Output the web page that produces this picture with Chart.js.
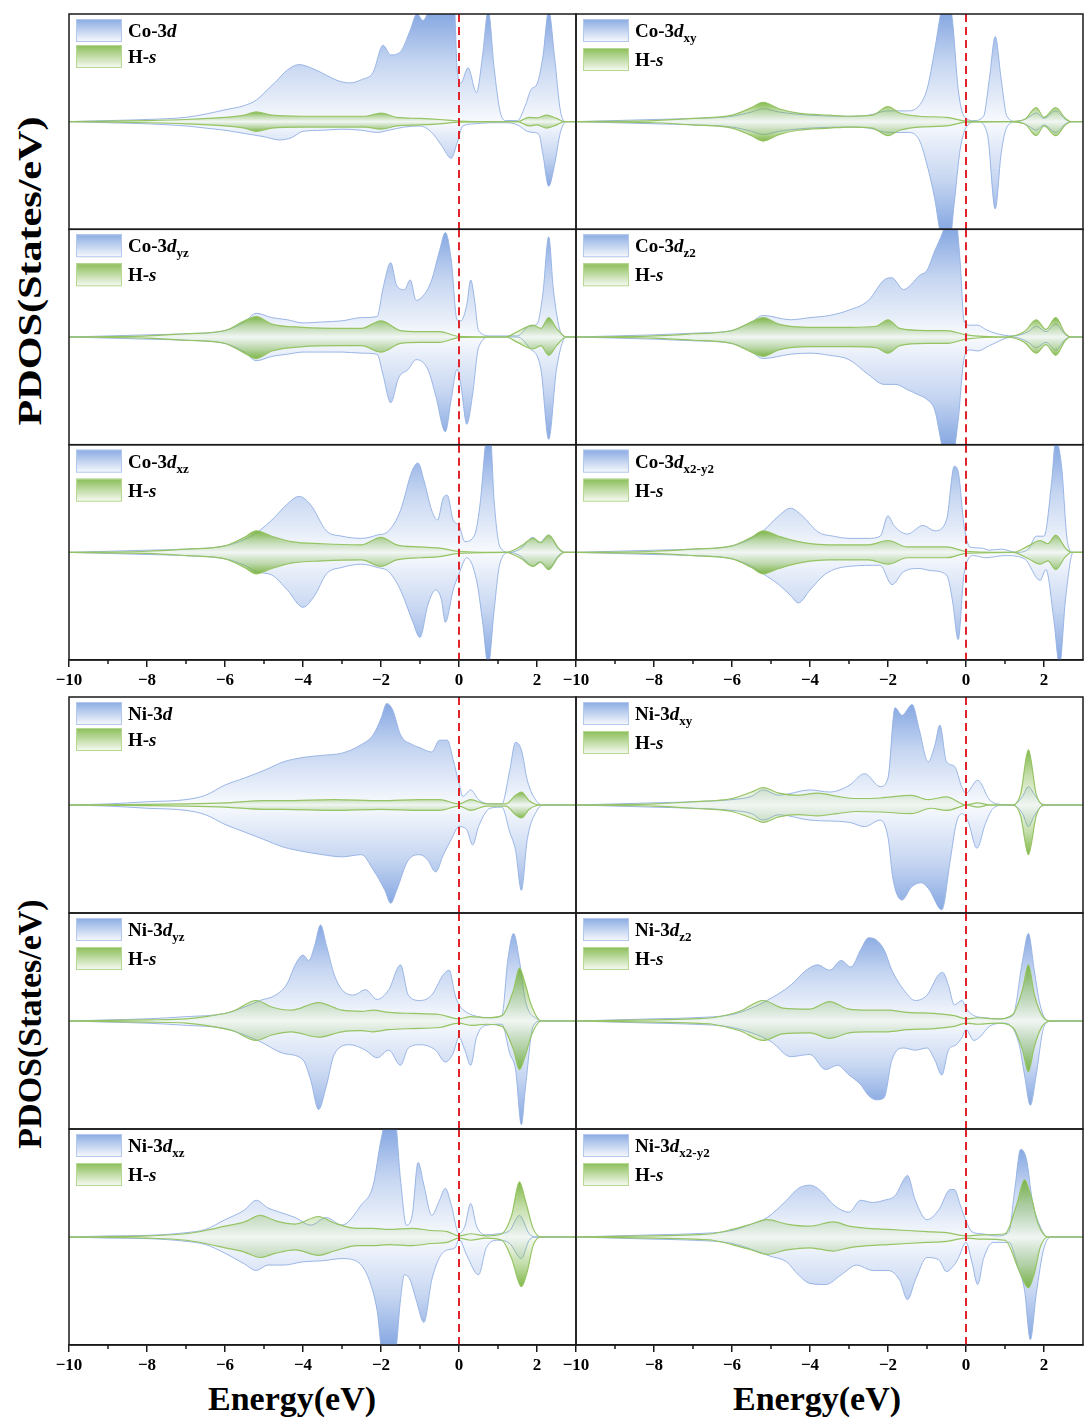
<!DOCTYPE html>
<html>
<head>
<meta charset="utf-8">
<script src="https://cdn.jsdelivr.net/npm/chart.js@4.4.1/dist/chart.umd.min.js"></script>
<style>
  body { margin: 0; background: #fff; }
  #page { position: relative; width: 1089px; height: 1428px; overflow: hidden; background: #fff; }
  canvas { position: absolute; }
  .title { position: absolute; font-family: "Liberation Serif", "Times New Roman", serif; font-weight: bold; color: #000; white-space: nowrap; line-height: 1; }
  .ytitle { transform-origin: center center; transform: translate(-50%, -50%) rotate(-90deg); }
  .ytitle.long { transform: translate(-50%, -50%) rotate(-90deg) scaleX(1.24); }
</style>
</head>
<body>
<div id="page">
  <div class="title ytitle long" style="left:30px; top:271px; font-size:34px;">PDOS(States/eV)</div>
  <div class="title ytitle" style="left:30px; top:1024px; font-size:34px;">PDOS(States/eV)</div>
  <div class="title" style="left:208px; top:1382px; font-size:34px;">Energy(eV)</div>
  <div class="title" style="left:733px; top:1382px; font-size:34px;">Energy(eV)</div>
</div>
<script>
// x axis ticks (energy, eV)
const tickValues = [-10, -8, -6, -4, -2, 0, 2];
const minorTicks = [-9, -7, -5, -3, -1, 1];

// ---- Co block: [energy, PDOS] pairs, spin up (+) and spin down (-) ----
const coD_up = [[-10,0],[-9,0.1],[-8,0.2],[-7,0.4],[-6.5,0.7],[-6,1.1],[-5.5,1.5],[-5.2,2.0],[-4.9,3.0],[-4.7,3.7],[-4.4,4.8],[-4.1,5.3],[-3.8,5.0],[-3.5,4.5],[-3.1,3.8],[-2.8,3.6],[-2.5,3.9],[-2.2,4.6],[-1.95,7.1],[-1.75,6.2],[-1.5,6.5],[-1.25,8.5],[-1.08,10],[-0.92,9.4],[-0.75,10.5],[-0.5,11.5],[-0.25,12],[-0.12,11],[-0.05,5],[0.05,3.6],[0.23,5.0],[0.45,2.7],[0.6,6],[0.75,10.3],[0.9,5],[1.05,1],[1.2,0.1],[1.5,0.1],[1.7,1.5],[1.85,3.0],[2.0,3.5],[2.15,6],[2.3,10.3],[2.45,6],[2.6,1],[2.75,0],[3,0]];
const coD_dn = [[-10,0],[-9,-0.1],[-8,-0.2],[-7,-0.4],[-6.5,-0.6],[-6,-0.8],[-5.5,-1.1],[-5,-1.4],[-4.6,-1.7],[-4.3,-1.5],[-4,-0.9],[-3.5,-0.8],[-3,-0.7],[-2.5,-0.8],[-2.1,-1.0],[-1.8,-0.8],[-1.4,-0.5],[-1.0,-0.4],[-0.7,-1.0],[-0.45,-2.2],[-0.2,-3.4],[-0.05,-2.0],[0.1,-0.4],[0.4,-0.2],[0.8,-0.1],[1.2,-0.1],[1.5,-0.3],[1.75,-0.9],[1.9,-1.0],[2.05,-1.2],[2.15,-3],[2.3,-6.0],[2.45,-4],[2.6,-1],[2.75,0],[3,0]];
const coD_Hup = [[-10,0],[-8,0.1],[-7,0.2],[-6,0.4],[-5.5,0.6],[-5.2,0.9],[-4.8,0.6],[-4,0.5],[-3,0.5],[-2.4,0.5],[-2.0,0.8],[-1.6,0.4],[-1,0.3],[-0.5,0.2],[0,0.05],[1,0],[1.5,0],[1.8,0.4],[2.0,0.35],[2.25,0.6],[2.5,0.3],[2.7,0],[3,0]];
const coD_Hdn = [[-10,0],[-8,-0.1],[-7,-0.2],[-6,-0.4],[-5.5,-0.6],[-5.2,-0.9],[-4.8,-0.6],[-4,-0.5],[-3,-0.5],[-2.4,-0.5],[-2.0,-0.7],[-1.6,-0.4],[-1,-0.3],[-0.5,-0.2],[0,-0.05],[1,0],[1.5,0],[1.8,-0.4],[2.0,-0.3],[2.25,-0.6],[2.5,-0.3],[2.7,0],[3,0]];

const coXY_up = [[-10,0],[-9,0.1],[-8,0.2],[-7,0.3],[-6,0.5],[-5.5,0.9],[-5.2,1.2],[-4.8,0.9],[-4,0.6],[-3,0.5],[-2.5,0.6],[-2,1.0],[-1.5,1.0],[-1.2,1.5],[-1.0,3],[-0.8,6.7],[-0.65,10],[-0.5,12],[-0.35,9.5],[-0.2,3],[-0.05,0.5],[0.2,0.1],[0.45,0.5],[0.6,4],[0.75,7.9],[0.9,4],[1.05,0.5],[1.3,0],[1.6,0.4],[1.8,0.8],[2.0,0.3],[2.3,1.0],[2.55,0.2],[2.7,0],[3,0]];
const coXY_dn = [[-10,0],[-9,-0.1],[-8,-0.2],[-7,-0.3],[-6,-0.5],[-5.5,-0.9],[-5.2,-1.2],[-4.8,-0.9],[-4,-0.6],[-3,-0.5],[-2.5,-0.6],[-2,-1.0],[-1.5,-1.0],[-1.2,-1.7],[-1.0,-4],[-0.8,-7.2],[-0.65,-10.5],[-0.45,-12],[-0.3,-7.5],[-0.15,-2.6],[0.05,-0.3],[0.3,0],[0.55,-1.2],[0.75,-8.1],[0.9,-3],[1.05,-0.5],[1.3,0],[1.6,-0.4],[1.8,-0.8],[2.0,-0.3],[2.3,-1.0],[2.55,-0.2],[2.7,0],[3,0]];
const coXY_Hup = [[-10,0],[-8,0.1],[-7,0.3],[-6,0.6],[-5.5,1.3],[-5.2,1.8],[-4.8,1.2],[-4.3,0.8],[-3.5,0.6],[-3,0.5],[-2.4,0.6],[-2.0,1.4],[-1.7,0.8],[-1.2,0.5],[-0.5,0.4],[0,0.05],[1,0],[1.5,0.2],[1.8,1.3],[2.0,0.4],[2.3,1.3],[2.55,0.3],[2.7,0],[3,0]];
const coXY_Hdn = [[-10,0],[-8,-0.1],[-7,-0.3],[-6,-0.6],[-5.5,-1.3],[-5.2,-1.8],[-4.8,-1.2],[-4.3,-0.8],[-3.5,-0.6],[-3,-0.5],[-2.4,-0.6],[-2.0,-1.3],[-1.7,-0.8],[-1.2,-0.5],[-0.5,-0.4],[0,-0.05],[1,0],[1.5,-0.2],[1.8,-1.3],[2.0,-0.4],[2.3,-1.3],[2.55,-0.3],[2.7,0],[3,0]];

const coYZ_up = [[-10,0],[-9,0.1],[-8,0.2],[-7,0.3],[-6,0.6],[-5.5,1.4],[-5.2,2.2],[-4.8,1.8],[-4.4,1.6],[-4,1.3],[-3.5,1.4],[-3,1.5],[-2.5,1.8],[-2.1,1.9],[-1.95,4.5],[-1.75,6.9],[-1.6,4.8],[-1.4,4.4],[-1.25,5.3],[-1.1,3.4],[-0.9,3.9],[-0.7,5.3],[-0.5,8],[-0.35,9.7],[-0.2,7.2],[-0.05,1.6],[0.05,1.5],[0.2,3.0],[0.3,5.3],[0.4,3.4],[0.5,0.6],[0.8,0.1],[1.5,0.1],[1.8,1.0],[2.0,1.2],[2.15,4],[2.3,9.3],[2.42,4.4],[2.6,0.5],[2.75,0],[3,0]];
const coYZ_dn = [[-10,0],[-9,-0.1],[-8,-0.2],[-7,-0.3],[-6,-0.6],[-5.5,-1.4],[-5.2,-2.2],[-4.8,-1.8],[-4.4,-1.6],[-4,-1.4],[-3.5,-1.4],[-3,-1.4],[-2.5,-1.5],[-2.1,-1.6],[-1.95,-3.5],[-1.75,-6.1],[-1.55,-3.8],[-1.3,-3.0],[-1.1,-2.1],[-0.8,-3.0],[-0.6,-5.4],[-0.35,-8.8],[-0.2,-5.8],[-0.05,-3],[0.05,-4.5],[0.2,-8.1],[0.35,-5.3],[0.5,-1],[0.8,0],[1.5,0],[1.8,-1],[2.1,-3],[2.3,-9.5],[2.5,-3],[2.75,0],[3,0]];
const coYZ_Hup = [[-10,0],[-8,0.1],[-7,0.3],[-6,0.6],[-5.5,1.5],[-5.2,1.9],[-4.8,1.2],[-4,0.9],[-3,0.8],[-2.5,0.8],[-2,1.5],[-1.5,0.6],[-1,0.5],[-0.5,0.5],[0,0.05],[1.2,0],[1.5,0.5],[1.9,1.1],[2.1,0.8],[2.3,1.8],[2.5,0.8],[2.75,0],[3,0]];
const coYZ_Hdn = [[-10,0],[-8,-0.1],[-7,-0.3],[-6,-0.6],[-5.5,-1.5],[-5.2,-2.0],[-4.8,-1.3],[-4,-0.9],[-3,-0.8],[-2.5,-0.8],[-2,-1.4],[-1.5,-0.6],[-1,-0.5],[-0.5,-0.5],[0,-0.05],[1.2,0],[1.5,-0.5],[1.9,-1.1],[2.1,-0.8],[2.3,-1.7],[2.5,-0.8],[2.75,0],[3,0]];

const coZ2_up = [[-10,0],[-9,0.1],[-8,0.2],[-7,0.35],[-6,0.6],[-5.5,1.4],[-5.2,2.0],[-4.5,1.6],[-4,1.8],[-3.5,2.0],[-3,2.5],[-2.5,3.4],[-2.1,5.3],[-1.9,5.5],[-1.6,4.4],[-1.4,4.9],[-1.2,5.7],[-1.0,6.2],[-0.8,8],[-0.6,9.7],[-0.45,11.5],[-0.3,12],[-0.15,7],[-0.05,1.5],[0.1,1.1],[0.3,1.1],[0.5,0.7],[0.8,0.3],[1.2,0.1],[1.6,0.5],[1.8,1.0],[2.05,0.5],[2.3,1.2],[2.55,0.2],[2.7,0],[3,0]];
const coZ2_dn = [[-10,0],[-9,-0.1],[-8,-0.2],[-7,-0.35],[-6,-0.6],[-5.5,-1.4],[-5.2,-2.0],[-4.5,-1.6],[-4,-1.5],[-3.5,-1.7],[-3,-2.1],[-2.5,-3.5],[-2.1,-4.4],[-1.8,-4.4],[-1.5,-4.9],[-1.2,-5.4],[-1.0,-5.8],[-0.8,-6.8],[-0.6,-10.3],[-0.4,-12],[-0.2,-7.7],[-0.05,-2],[0.1,-1.2],[0.3,-1.3],[0.6,-0.8],[1.2,0],[1.6,-0.5],[1.8,-1.0],[2.05,-0.5],[2.3,-1.2],[2.55,-0.2],[2.7,0],[3,0]];
const coZ2_Hup = [[-10,0],[-8,0.1],[-7,0.3],[-6,0.6],[-5.5,1.4],[-5.2,1.8],[-4.8,1.2],[-4,0.9],[-3,0.9],[-2.3,1.0],[-2,1.6],[-1.7,0.8],[-1,0.6],[-0.5,0.6],[0,0.2],[1,0],[1.5,0.5],[1.8,1.6],[2.05,0.7],[2.3,1.8],[2.55,0.3],[2.7,0],[3,0]];
const coZ2_Hdn = [[-10,0],[-8,-0.1],[-7,-0.3],[-6,-0.6],[-5.5,-1.4],[-5.2,-1.8],[-4.8,-1.2],[-4,-0.9],[-3,-0.9],[-2.3,-1.0],[-2,-1.5],[-1.7,-0.8],[-1,-0.6],[-0.5,-0.6],[0,-0.2],[1,0],[1.5,-0.5],[1.8,-1.5],[2.05,-0.7],[2.3,-1.7],[2.55,-0.3],[2.7,0],[3,0]];

const coXZ_up = [[-10,0],[-9,0.1],[-8,0.2],[-7,0.3],[-6,0.6],[-5.5,1.2],[-5.2,1.8],[-4.8,3.0],[-4.4,4.5],[-4.1,5.2],[-3.8,4.4],[-3.4,2.0],[-3,1.5],[-2.5,1.3],[-2.1,1.6],[-1.8,2.0],[-1.5,3.9],[-1.2,7.6],[-1.05,8.3],[-0.9,6.7],[-0.7,3.9],[-0.55,3.0],[-0.4,5.1],[-0.3,5.3],[-0.15,3.0],[0,2.5],[0.15,1.0],[0.4,1.6],[0.55,4.8],[0.7,10.5],[0.8,11],[0.9,4.8],[1.05,0.5],[1.3,0],[1.6,0.4],[1.9,1.4],[2.05,0.9],[2.3,1.6],[2.55,0.3],[2.7,0],[3,0]];
const coXZ_dn = [[-10,0],[-9,-0.1],[-8,-0.2],[-7,-0.3],[-6,-0.6],[-5.5,-1.2],[-5.2,-1.8],[-4.8,-2.1],[-4.4,-3.5],[-4.0,-5.1],[-3.7,-4.0],[-3.4,-2.0],[-3,-1.4],[-2.5,-1.1],[-2.1,-1.4],[-1.8,-1.8],[-1.5,-3.5],[-1.2,-6.3],[-1.0,-7.9],[-0.8,-4.9],[-0.6,-3.5],[-0.45,-4.4],[-0.35,-6.5],[-0.15,-3.5],[0,-2],[0.2,-0.5],[0.45,-2.6],[0.6,-6.3],[0.75,-10.5],[0.9,-5.4],[1.05,-1],[1.3,0],[1.6,-0.4],[1.9,-1.3],[2.05,-0.9],[2.3,-1.5],[2.55,-0.3],[2.7,0],[3,0]];
const coXZ_Hup = [[-10,0],[-8,0.1],[-7,0.3],[-6,0.6],[-5.5,1.4],[-5.2,2.0],[-4.8,1.5],[-4.3,1.0],[-3.5,0.8],[-2.5,0.7],[-2,1.4],[-1.6,0.7],[-1,0.5],[-0.5,0.4],[0,0.1],[1.2,0],[1.6,0.6],[1.9,1.3],[2.1,0.9],[2.3,1.6],[2.55,0.4],[2.7,0],[3,0]];
const coXZ_Hdn = [[-10,0],[-8,-0.1],[-7,-0.3],[-6,-0.6],[-5.5,-1.4],[-5.2,-2.0],[-4.8,-1.5],[-4.3,-1.0],[-3.5,-0.8],[-2.5,-0.7],[-2,-1.3],[-1.6,-0.7],[-1,-0.5],[-0.5,-0.4],[0,-0.1],[1.2,0],[1.6,-0.6],[1.9,-1.3],[2.1,-0.9],[2.3,-1.6],[2.55,-0.4],[2.7,0],[3,0]];

const coX2_up = [[-10,0],[-9,0.1],[-8,0.2],[-7,0.3],[-6,0.6],[-5.5,1.3],[-5.2,2.0],[-4.8,3.4],[-4.5,4.1],[-4.2,3.4],[-3.8,1.9],[-3.4,1.5],[-3,1.3],[-2.5,1.3],[-2.2,1.5],[-2.0,3.4],[-1.85,2.5],[-1.5,1.7],[-1.1,2.5],[-0.8,2.0],[-0.5,3.0],[-0.3,8],[-0.2,7.5],[-0.05,2.5],[0.1,0.5],[0.4,0.4],[0.6,0.2],[0.9,0.3],[1.3,0],[1.6,0.3],[1.8,1.5],[2.0,1.5],[2.2,6.7],[2.3,10.5],[2.45,8],[2.6,1],[2.75,0],[3,0]];
const coX2_dn = [[-10,0],[-9,-0.1],[-8,-0.2],[-7,-0.3],[-6,-0.6],[-5.5,-1.3],[-5.2,-2.0],[-4.8,-3.0],[-4.5,-4.0],[-4.3,-4.7],[-4,-3.5],[-3.6,-2.0],[-3,-1.3],[-2.2,-1.2],[-1.9,-3.0],[-1.6,-1.8],[-1.2,-1.5],[-0.9,-1.7],[-0.5,-2.1],[-0.35,-4.4],[-0.2,-8.1],[-0.05,-2],[0.2,-0.3],[0.5,-0.5],[1,-0.3],[1.5,-0.6],[1.9,-2.6],[2.05,-1.6],[2.25,-6.2],[2.4,-10.5],[2.55,-4.4],[2.75,0],[3,0]];
const coX2_Hup = [[-10,0],[-8,0.1],[-7,0.3],[-6,0.6],[-5.5,1.4],[-5.2,2.0],[-4.8,1.5],[-4.3,1.0],[-3.5,0.7],[-2.5,0.7],[-2,1.1],[-1.5,0.5],[-0.5,0.5],[0,0.1],[1.2,0],[1.6,0.6],[1.9,1.1],[2.1,0.8],[2.3,1.6],[2.55,0.4],[2.7,0],[3,0]];
const coX2_Hdn = [[-10,0],[-8,-0.1],[-7,-0.3],[-6,-0.6],[-5.5,-1.4],[-5.2,-2.0],[-4.8,-1.5],[-4.3,-1.0],[-3.5,-0.7],[-2.5,-0.7],[-2,-1.1],[-1.5,-0.5],[-0.5,-0.5],[0,-0.1],[1.2,0],[1.6,-0.6],[1.9,-1.1],[2.1,-0.8],[2.3,-1.6],[2.55,-0.4],[2.7,0],[3,0]];

// ---- Ni block ----
const niD_up = [[-10,0],[-9,0.1],[-8,0.3],[-7,0.5],[-6.5,0.9],[-6,1.85],[-5.5,2.5],[-5,3.2],[-4.5,4.0],[-4,4.4],[-3.5,4.6],[-3,4.8],[-2.5,5.6],[-2.2,6.5],[-2.0,8],[-1.85,9.4],[-1.7,8.8],[-1.5,6.5],[-1.2,5.6],[-1.0,5.3],[-0.7,4.9],[-0.5,6.0],[-0.3,6.0],[-0.15,4.2],[0,2.0],[0.1,0.8],[0.3,1.4],[0.5,0.5],[0.8,0.1],[1.1,0.1],[1.3,3.2],[1.45,5.8],[1.6,5.1],[1.75,2.3],[2,0.3],[2.2,0],[3,0]];
const niD_dn = [[-10,0],[-9,-0.1],[-8,-0.3],[-7,-0.5],[-6.5,-0.9],[-6,-1.8],[-5.5,-2.5],[-5,-3.2],[-4.5,-3.9],[-4,-4.3],[-3.5,-4.6],[-3,-4.8],[-2.5,-4.6],[-2.2,-6],[-1.9,-7.9],[-1.75,-9.1],[-1.6,-7.9],[-1.3,-5.1],[-1.0,-4.6],[-0.8,-5.1],[-0.6,-6.2],[-0.4,-4.6],[-0.2,-3.2],[0,-2],[0.2,-2.3],[0.35,-3.7],[0.5,-2],[0.8,-0.3],[1.1,-0.2],[1.3,-2.5],[1.45,-4.2],[1.6,-7.9],[1.75,-3.2],[2,-0.5],[2.2,0],[3,0]];
const niD_Hup = [[-10,0],[-8,0.05],[-7,0.1],[-6,0.2],[-5,0.4],[-4.5,0.4],[-3.2,0.5],[-2,0.4],[-1,0.5],[-0.5,0.5],[0,0.1],[0.3,0.5],[0.7,0.1],[1.2,0.1],[1.45,0.9],[1.6,1.2],[1.8,0.4],[2.1,0],[3,0]];
const niD_Hdn = [[-10,0],[-8,-0.05],[-7,-0.1],[-6,-0.2],[-5,-0.4],[-4.5,-0.4],[-3.2,-0.5],[-2,-0.4],[-1,-0.5],[-0.5,-0.5],[0,-0.1],[0.3,-0.5],[0.7,-0.1],[1.2,-0.1],[1.45,-0.9],[1.6,-1.2],[1.8,-0.4],[2.1,0],[3,0]];

const niXY_up = [[-10,0],[-9,0.1],[-8,0.2],[-7,0.3],[-6,0.5],[-5.5,0.8],[-5.2,1.4],[-4.8,0.9],[-4,1.4],[-3.5,1.2],[-3,1.8],[-2.6,2.9],[-2.2,1.7],[-2.0,2.5],[-1.82,9.0],[-1.64,8.3],[-1.38,9.3],[-1.2,7.0],[-0.97,4.0],[-0.8,5.5],[-0.67,7.4],[-0.5,4.0],[-0.3,3.6],[-0.1,1.6],[0,1.1],[0.3,2.3],[0.6,0.5],[0.8,0.1],[1.2,0],[1.45,0.8],[1.6,1.7],[1.75,1.0],[1.95,0.1],[2.2,0],[3,0]];
const niXY_dn = [[-10,0],[-9,-0.1],[-8,-0.2],[-7,-0.3],[-6,-0.5],[-5.5,-0.8],[-5.2,-1.4],[-4.8,-0.9],[-4,-1.4],[-3,-1.6],[-2.6,-2.0],[-2.2,-1.4],[-2.0,-3.0],[-1.87,-6.9],[-1.64,-8.8],[-1.4,-7.6],[-1.15,-7.2],[-0.95,-7.8],[-0.62,-9.7],[-0.4,-5],[-0.25,-1.7],[-0.1,-0.8],[0.05,-1.5],[0.28,-4.0],[0.5,-1.7],[0.7,-0.3],[1.0,0],[1.2,0],[1.45,-0.8],[1.6,-2.0],[1.75,-1.0],[1.95,-0.1],[2.2,0],[3,0]];
const niXY_Hup = [[-10,0],[-8,0.1],[-7,0.3],[-6,0.6],[-5.5,1.2],[-5.2,1.6],[-4.8,1.1],[-4.3,0.9],[-3.8,1.1],[-3.3,0.8],[-2.8,0.6],[-2.2,0.65],[-1.4,0.9],[-0.97,0.5],[-0.5,0.75],[-0.1,0.1],[0,0],[0.3,0.2],[0.6,0],[1.2,0],[1.4,1.0],[1.6,5.1],[1.8,1.0],[2.0,0],[3,0]];
const niXY_Hdn = [[-10,0],[-8,-0.1],[-7,-0.3],[-6,-0.6],[-5.5,-1.2],[-5.2,-1.6],[-4.8,-1.1],[-4.3,-0.9],[-3.8,-1.0],[-3.3,-0.8],[-2.8,-0.6],[-2.2,-0.65],[-1.4,-0.8],[-0.9,-0.3],[-0.5,-0.5],[-0.1,-0.1],[0,0],[0.3,-0.2],[0.6,0],[1.2,0],[1.4,-1.0],[1.6,-4.6],[1.8,-1.0],[2.0,0],[3,0]];

const niYZ_up = [[-10,0],[-9,0.1],[-8,0.2],[-7,0.4],[-6,0.7],[-5.5,1.3],[-5.1,1.9],[-4.7,2.4],[-4.4,3.5],[-4.2,5.2],[-4.0,6.1],[-3.85,5.6],[-3.7,7],[-3.55,8.9],[-3.4,7.0],[-3.2,4.3],[-3.0,2.9],[-2.7,2.4],[-2.4,2.9],[-2.1,2.0],[-1.8,2.9],[-1.5,5.2],[-1.3,2.4],[-1.0,1.9],[-0.7,2.4],[-0.4,4.3],[-0.25,4.7],[-0.1,2.4],[0,1.5],[0.2,0.8],[0.5,0.4],[0.8,0.3],[1.1,0.5],[1.25,5.6],[1.4,8.1],[1.55,5.6],[1.7,1.9],[2.0,0.2],[2.2,0],[3,0]];
const niYZ_dn = [[-10,0],[-9,-0.1],[-8,-0.2],[-7,-0.4],[-6,-0.7],[-5.5,-1.3],[-5.1,-1.9],[-4.5,-3.0],[-4.0,-3.6],[-3.8,-5.5],[-3.6,-8.2],[-3.4,-6],[-3.2,-3.1],[-2.8,-2.2],[-2.4,-2.7],[-2.1,-3.4],[-1.8,-2.7],[-1.5,-4.1],[-1.3,-2.5],[-1.0,-2.2],[-0.6,-2.7],[-0.35,-3.8],[-0.15,-3],[0,-1.5],[0.15,-2.7],[0.3,-4.1],[0.45,-1.5],[0.7,-0.4],[1.1,-0.3],[1.3,-3],[1.45,-4.5],[1.6,-9.6],[1.7,-6.3],[1.9,-0.5],[2.1,0],[3,0]];
const niYZ_Hup = [[-10,0],[-8,0.1],[-7,0.2],[-6.5,0.4],[-5.8,0.9],[-5.2,1.9],[-4.8,1.3],[-4.3,1.0],[-3.6,1.7],[-3.0,1.0],[-2.5,0.9],[-2.2,1.0],[-1.8,0.8],[-1.2,0.7],[-0.5,0.6],[0,0.2],[0.3,0.4],[0.7,0.3],[1.1,0.5],[1.4,2.9],[1.55,4.9],[1.7,3.4],[1.85,1.5],[2.1,0],[3,0]];
const niYZ_Hdn = [[-10,0],[-8,-0.1],[-7,-0.2],[-6.5,-0.4],[-5.8,-0.9],[-5.2,-1.8],[-4.8,-1.3],[-4.3,-1.0],[-3.6,-1.5],[-3.0,-1.0],[-2.5,-0.9],[-2.2,-1.0],[-1.8,-0.8],[-1.2,-0.7],[-0.5,-0.6],[0,-0.2],[0.3,-0.4],[0.7,-0.3],[1.1,-0.5],[1.4,-2.7],[1.55,-4.5],[1.7,-3.2],[1.85,-1.4],[2.1,0],[3,0]];

const niZ2_up = [[-10,0],[-9,0.1],[-8,0.2],[-7,0.3],[-6,0.6],[-5.5,1.2],[-5.1,1.9],[-4.5,3.3],[-4.1,4.7],[-3.8,5.2],[-3.5,4.7],[-3.2,5.6],[-2.95,5.0],[-2.7,6.6],[-2.5,7.7],[-2.3,7.5],[-2.1,6.6],[-1.9,4.7],[-1.6,2.9],[-1.3,1.9],[-1.0,2.4],[-0.7,4.3],[-0.6,4.5],[-0.45,3.3],[-0.3,1.5],[-0.1,1.9],[0,1.2],[0.2,0.5],[0.5,0.3],[0.8,0.2],[1.2,0.5],[1.45,5.6],[1.6,8.1],[1.75,4.7],[1.9,1.5],[2.1,0],[3,0]];
const niZ2_dn = [[-10,0],[-9,-0.1],[-8,-0.2],[-7,-0.3],[-6,-0.6],[-5,-1.9],[-4.5,-3.3],[-4,-3.1],[-3.6,-4.5],[-3.3,-4.1],[-3.0,-5],[-2.7,-5.9],[-2.5,-6.9],[-2.3,-7.3],[-2.1,-7.1],[-1.9,-3.6],[-1.6,-2.5],[-1.3,-2.7],[-1.0,-2.5],[-0.8,-3.6],[-0.62,-5],[-0.45,-2.7],[-0.25,-2.2],[-0.1,-1.5],[0,-0.8],[0.2,-1.8],[0.35,-1.5],[0.6,-0.5],[1.0,-0.2],[1.35,-2],[1.5,-5],[1.65,-7.8],[1.8,-5],[2.0,-0.5],[2.2,0],[3,0]];
const niZ2_Hup = [[-10,0],[-8,0.1],[-7,0.2],[-6.5,0.3],[-5.8,0.9],[-5.2,1.9],[-4.7,1.2],[-4,1.1],[-3.5,1.8],[-3,1.1],[-2.5,1.0],[-2,1.0],[-1.5,0.8],[-0.8,0.7],[-0.3,0.5],[0,0.2],[0.3,0.3],[0.8,0.2],[1.2,0.6],[1.45,2.9],[1.6,5.2],[1.75,2.5],[1.95,0.5],[2.2,0],[3,0]];
const niZ2_Hdn = [[-10,0],[-8,-0.1],[-7,-0.2],[-6.5,-0.3],[-5.8,-0.9],[-5.2,-1.8],[-4.7,-1.2],[-4,-1.1],[-3.5,-1.6],[-3,-1.1],[-2.5,-1.0],[-2,-1.0],[-1.5,-0.8],[-0.8,-0.7],[-0.3,-0.5],[0,-0.2],[0.3,-0.3],[0.8,-0.2],[1.2,-0.6],[1.45,-2.7],[1.6,-4.7],[1.75,-2.4],[1.95,-0.5],[2.2,0],[3,0]];

const niXZ_up = [[-10,0],[-9,0.1],[-8,0.15],[-7,0.4],[-6.5,0.7],[-6,1.6],[-5.5,2.5],[-5.2,3.4],[-4.9,2.7],[-4.6,2.3],[-4.2,1.8],[-3.8,1.1],[-3.4,1.8],[-3,1.1],[-2.5,3.0],[-2.2,4.8],[-2.0,9],[-1.85,11],[-1.65,11],[-1.5,5.3],[-1.35,1.1],[-1.2,2.0],[-1.05,6.9],[-0.9,4.8],[-0.7,2.0],[-0.5,3.4],[-0.35,4.5],[-0.2,3.0],[0,0.3],[0.15,1.0],[0.3,3.1],[0.45,1.0],[0.7,0.2],[1.0,0.3],[1.3,0.6],[1.55,2.0],[1.8,0.3],[2.0,0],[3,0]];
const niXZ_dn = [[-10,0],[-9,-0.1],[-8,-0.15],[-7,-0.4],[-6.5,-0.7],[-6,-1.5],[-5.5,-2.5],[-5.2,-3.1],[-4.9,-2.6],[-4.5,-2.6],[-4,-2.3],[-3.5,-2.2],[-3,-2.0],[-2.6,-2.3],[-2.3,-4],[-2.1,-6.8],[-1.95,-11],[-1.65,-11],[-1.5,-5.8],[-1.4,-3.5],[-1.25,-4.0],[-1.1,-5.8],[-0.9,-7.9],[-0.7,-4.0],[-0.5,-1.9],[-0.3,-1.2],[-0.1,-1.0],[0,-0.2],[0.2,-1.7],[0.5,-3.5],[0.7,-1.0],[1.0,-0.3],[1.3,-0.6],[1.6,-2.0],[1.8,-0.3],[2.0,0],[3,0]];
const niXZ_Hup = [[-10,0],[-8,0.1],[-7,0.3],[-6.5,0.6],[-6,1.0],[-5.5,1.4],[-5.1,2.0],[-4.7,1.5],[-4.2,1.2],[-3.6,1.9],[-3.2,1.3],[-2.6,0.8],[-2.2,0.8],[-1.8,0.7],[-1.2,0.8],[-0.7,0.6],[-0.3,0.5],[0,0.1],[0.3,0.3],[0.7,0.1],[1.1,0.3],[1.35,2.0],[1.55,5.1],[1.7,3.4],[1.9,0.8],[2.1,0],[3,0]];
const niXZ_Hdn = [[-10,0],[-8,-0.1],[-7,-0.3],[-6.5,-0.6],[-6,-1.0],[-5.5,-1.4],[-5.1,-1.9],[-4.7,-1.5],[-4.2,-1.2],[-3.6,-1.7],[-3.2,-1.3],[-2.6,-0.8],[-2.2,-0.8],[-1.8,-0.7],[-1.2,-0.8],[-0.7,-0.6],[-0.3,-0.5],[0,-0.1],[0.3,-0.3],[0.7,-0.1],[1.1,-0.3],[1.35,-2.0],[1.6,-4.6],[1.75,-3.2],[1.9,-0.8],[2.1,0],[3,0]];

const niX2_up = [[-10,0],[-9,0.1],[-8,0.2],[-7,0.3],[-6,0.6],[-5.5,1.2],[-5.1,1.8],[-4.6,3.4],[-4.3,4.5],[-4.0,4.8],[-3.7,4.2],[-3.4,3.0],[-3.0,2.3],[-2.7,3.4],[-2.4,3.2],[-2.1,3.4],[-1.8,3.9],[-1.6,5.3],[-1.5,5.7],[-1.3,3.4],[-1.0,1.6],[-0.7,2.5],[-0.4,4.4],[-0.3,4.4],[-0.15,3.0],[0,1.5],[0.15,0.5],[0.4,0.3],[0.8,0.1],[1.1,0.5],[1.25,4.4],[1.4,8.1],[1.55,7.2],[1.7,3.4],[1.9,1.0],[2.1,0],[3,0]];
const niX2_dn = [[-10,0],[-9,-0.1],[-8,-0.2],[-7,-0.3],[-6,-0.6],[-5,-1.8],[-4.6,-2.3],[-4.3,-3.5],[-4.0,-4.3],[-3.6,-4.4],[-3.2,-3.5],[-2.8,-2.6],[-2.4,-3.1],[-2.0,-3.1],[-1.7,-4.0],[-1.5,-5.8],[-1.3,-4.0],[-1.0,-1.9],[-0.7,-2.1],[-0.5,-3.2],[-0.35,-2.8],[-0.2,-2],[0,-0.5],[0.15,-2.3],[0.3,-4.4],[0.45,-2],[0.7,-0.5],[1.1,-0.5],[1.35,-3],[1.5,-4.9],[1.65,-9.5],[1.8,-5.3],[2.0,-1],[2.2,0],[3,0]];
const niX2_Hup = [[-10,0],[-8,0.1],[-7,0.2],[-6.5,0.3],[-6,0.7],[-5.5,1.2],[-5.1,1.6],[-4.6,1.2],[-4,1.0],[-3.4,1.4],[-3,1.0],[-2.5,0.8],[-2,0.7],[-1.5,0.6],[-1,0.5],[-0.5,0.4],[0,0.1],[0.4,0.2],[1.0,0.3],[1.3,3.0],[1.5,5.3],[1.65,4.0],[1.85,1.2],[2.1,0],[3,0]];
const niX2_Hdn = [[-10,0],[-8,-0.1],[-7,-0.2],[-6.5,-0.3],[-6,-0.7],[-5.5,-1.2],[-5.1,-1.6],[-4.6,-1.2],[-4,-1.0],[-3.4,-1.3],[-3,-1.0],[-2.5,-0.8],[-2,-0.7],[-1.5,-0.6],[-1,-0.5],[-0.5,-0.4],[0,-0.1],[0.4,-0.2],[1.0,-0.3],[1.35,-3.0],[1.6,-4.7],[1.75,-3.4],[1.9,-1.0],[2.1,0],[3,0]];

// panels in reading order (left, right per row)
const panels = [
  { el: 'Co', orb: '',      d: [coD_up, coD_dn],   h: [coD_Hup, coD_Hdn] },
  { el: 'Co', orb: 'xy',    d: [coXY_up, coXY_dn], h: [coXY_Hup, coXY_Hdn] },
  { el: 'Co', orb: 'yz',    d: [coYZ_up, coYZ_dn], h: [coYZ_Hup, coYZ_Hdn] },
  { el: 'Co', orb: 'z2',    d: [coZ2_up, coZ2_dn], h: [coZ2_Hup, coZ2_Hdn] },
  { el: 'Co', orb: 'xz',    d: [coXZ_up, coXZ_dn], h: [coXZ_Hup, coXZ_Hdn] },
  { el: 'Co', orb: 'x2-y2', d: [coX2_up, coX2_dn], h: [coX2_Hup, coX2_Hdn] },
  { el: 'Ni', orb: '',      d: [niD_up, niD_dn],   h: [niD_Hup, niD_Hdn] },
  { el: 'Ni', orb: 'xy',    d: [niXY_up, niXY_dn], h: [niXY_Hup, niXY_Hdn] },
  { el: 'Ni', orb: 'yz',    d: [niYZ_up, niYZ_dn], h: [niYZ_Hup, niYZ_Hdn] },
  { el: 'Ni', orb: 'z2',    d: [niZ2_up, niZ2_dn], h: [niZ2_Hup, niZ2_Hdn] },
  { el: 'Ni', orb: 'xz',    d: [niXZ_up, niXZ_dn], h: [niXZ_Hup, niXZ_Hdn] },
  { el: 'Ni', orb: 'x2-y2', d: [niX2_up, niX2_dn], h: [niX2_Hup, niX2_Hdn] }
];

const FONT = '"Liberation Serif", "Times New Roman", serif';
const BLUE = '118,156,222';
const GREEN = '118,178,58';

// layout of the panel grid
const colLeft = [69, 576];
const panelW = 507;
const rowTop = [14, 229.3, 444.7, 697, 913, 1129];
const rowH = [215.3, 215.4, 215.3, 216, 216, 216];
const PAD = 30, AXIS_H = 40;

function toXY(arr) {
  return arr.map(p => ({ x: p[0], y: p[1] }));
}

// vertical gradient from the zero line to the curve's own extreme
function gradFill(rgb, lo, hi) {
  return (ctx) => {
    const chart = ctx.chart;
    if (!chart.chartArea) return null;
    const ds = chart.data.datasets[ctx.datasetIndex];
    let peak = 0;
    ds.data.forEach(p => { if (Math.abs(p.y) > Math.abs(peak)) peak = p.y; });
    peak = Math.max(-10, Math.min(10, peak));
    const ys = chart.scales.y;
    const y0 = ys.getPixelForValue(0);
    const y1 = ys.getPixelForValue(peak);
    if (Math.abs(y1 - y0) < 1) return `rgba(${rgb},${lo})`;
    const g = chart.ctx.createLinearGradient(0, y0, 0, y1);
    g.addColorStop(0, `rgba(${rgb},${lo})`);
    g.addColorStop(0.55, `rgba(${rgb},${(lo + hi) * 0.45})`);
    g.addColorStop(1, `rgba(${rgb},${hi})`);
    return g;
  };
}

function richText(ctx, x, y, parts) {
  parts.forEach(p => {
    ctx.font = `${p.italic ? 'italic ' : ''}bold ${p.sub ? 13 : 19}px ${FONT}`;
    ctx.fillText(p.t, x, y + (p.sub ? 5 : 0));
    x += ctx.measureText(p.t).width;
  });
}

function swatch(ctx, x, y, w, h, rgb, border) {
  const g = ctx.createLinearGradient(0, y, 0, y + h);
  g.addColorStop(0, `rgba(${rgb},0.85)`);
  g.addColorStop(1, `rgba(${rgb},0.05)`);
  ctx.fillStyle = g;
  ctx.fillRect(x, y, w, h);
  ctx.strokeStyle = border;
  ctx.lineWidth = 1;
  ctx.strokeRect(x + 0.5, y + 0.5, w - 1, h - 1);
}

const panelDeco = {
  id: 'panelDeco',
  afterDatasetsDraw(chart, args, opts) {
    const { ctx, chartArea: a } = chart;
    const x0 = chart.scales.x.getPixelForValue(0);
    ctx.save();
    ctx.strokeStyle = '#e0242b';
    ctx.lineWidth = 2;
    ctx.setLineDash([8, 5]);
    ctx.beginPath();
    ctx.moveTo(x0, a.top);
    ctx.lineTo(x0, a.bottom);
    ctx.stroke();
    ctx.restore();
  },
  afterDraw(chart, args, opts) {
    const { ctx, chartArea: a } = chart;
    ctx.save();
    // frame
    ctx.strokeStyle = '#1a1a1a';
    ctx.lineWidth = 1.5;
    ctx.strokeRect(a.left, a.top, a.right - a.left, a.bottom - a.top);
    // minor ticks on the energy axis
    if (opts.axis) {
      ctx.beginPath();
      minorTicks.forEach(v => {
        const px = chart.scales.x.getPixelForValue(v);
        ctx.moveTo(px, a.bottom);
        ctx.lineTo(px, a.bottom + 4);
      });
      ctx.stroke();
    }
    // legend
    const sub = opts.orb !== '';
    const lx = a.left + 7, ly = a.top;
    swatch(ctx, lx, ly + 5, 46, 23, BLUE, '#b3c8ec');
    swatch(ctx, lx, ly + (sub ? 34 : 31), 46, 23, GREEN, '#b7d893');
    ctx.fillStyle = '#000';
    ctx.textBaseline = 'alphabetic';
    const label = [{ t: opts.el + '-3' }, { t: 'd', italic: true }];
    if (sub) label.push({ t: opts.orb, sub: true });
    richText(ctx, lx + 52, ly + 23, label);
    richText(ctx, lx + 52, ly + (sub ? 52 : 49), [{ t: 'H-' }, { t: 's', italic: true }]);
    ctx.restore();
  }
};

const page = document.getElementById('page');

panels.forEach((p, i) => {
  const row = Math.floor(i / 2), col = i % 2;
  const axis = row === 2 || row === 5;
  const top = rowTop[row], h = rowH[row];
  const cTop = Math.floor(top) - 4;
  const cH = Math.ceil(h) + 8 + (axis ? AXIS_H : 0);
  const padTop = top - cTop;
  const padBottom = cH - padTop - h - (axis ? AXIS_H : 0);

  const canvas = document.createElement('canvas');
  canvas.width = panelW + 2 * PAD;
  canvas.height = cH;
  canvas.style.left = (colLeft[col] - PAD) + 'px';
  canvas.style.top = cTop + 'px';
  page.appendChild(canvas);

  const line = (data, rgb, border, order, lw) => ({
    data: toXY(data),
    borderColor: border,
    borderWidth: lw,
    backgroundColor: gradFill(rgb, 0.05, rgb === BLUE ? 0.88 : 0.92),
    fill: 'origin',
    pointRadius: 0,
    tension: 0.4,
    cubicInterpolationMode: 'monotone',
    order: order
  });

  new Chart(canvas, {
    type: 'line',
    data: {
      datasets: [
        line(p.d[0], BLUE, 'rgba(150,178,228,0.95)', 2, 1),
        line(p.d[1], BLUE, 'rgba(150,178,228,0.95)', 2, 1),
        line(p.h[0], GREEN, 'rgba(150,196,100,1)', 1, 1.2),
        line(p.h[1], GREEN, 'rgba(150,196,100,1)', 1, 1.2)
      ]
    },
    options: {
      responsive: false,
      animation: false,
      events: [],
      layout: { padding: { left: PAD, right: PAD, top: padTop, bottom: padBottom } },
      plugins: {
        legend: { display: false },
        tooltip: { enabled: false },
        panelDeco: { axis: axis, el: p.el, orb: p.orb }
      },
      scales: {
        x: {
          type: 'linear',
          min: -10,
          max: 3,
          display: axis,
          afterBuildTicks: s => { s.ticks = tickValues.map(v => ({ value: v })); },
          afterFit: s => { if (axis) s.height = AXIS_H; },
          grid: { display: true, drawOnChartArea: false, drawTicks: true, tickLength: 7, color: '#1a1a1a', lineWidth: 1.5 },
          border: { display: true, color: '#1a1a1a', width: 1.5 },
          ticks: {
            maxRotation: 0,
            autoSkip: false,
            padding: 3,
            color: '#000',
            font: { family: FONT, size: 17, weight: 'bold' },
            callback: v => (v < 0 ? '\u2212' + Math.abs(v) : String(v))
          }
        },
        y: { type: 'linear', min: -10, max: 10, display: false }
      }
    },
    plugins: [panelDeco]
  });
});
</script>
</body>
</html>
